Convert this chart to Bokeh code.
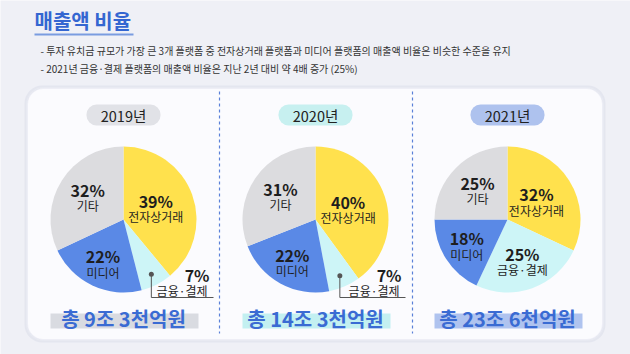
import math
from bokeh.plotting import figure
from bokeh.models import Range1d, BoxAnnotation, ColumnDataSource
from bokeh.core.properties import value
from bokeh.embed import file_html
from bokeh.resources import INLINE

# ---------------- data ----------------
years = ["2019년", "2020년", "2021년"]
categories = ["전자상거래", "금융·결제", "미디어", "기타"]
share_2019 = [39, 7, 22, 32]
share_2020 = [40, 7, 22, 31]
share_2021 = [32, 25, 18, 25]
totals = ["총 9조 3천억원", "총 14조 3천억원", "총 23조 6천억원"]
title = "매출액 비율"
notes = [
    "- 투자 유치금 규모가 가장 큰 3개 플랫폼 중 전자상거래 플랫폼과 미디어 플랫폼의  매출액 비율은 비슷한 수준을 유지",
    "- 2021년 금융·결제 플랫폼의 매출액 비율은 지난 2년 대비 약 4배 증가 (25%)",
]

# ---------------- styles / layout ----------------
W, H = 630, 354
FONT = value("Noto Sans CJK KR")
slice_colors = ["#FFE14D", "#CDF5F7", "#5A89E6", "#DCDCDF"]
pill_colors = ["#E1E2E7", "#C7F0F0", "#AEC2EE"]
hl_colors = ["#D9DBE1", "#C3F0F1", "#AFC3EF"]
blue = "#3A6BD3"
centers_x = [123, 315, 507]
cy = 219
R = 73
label_r = [0.47, 0.6, 0.66, 0.58]


def Y(y):
    return H - y


p = figure(width=W, height=H, x_range=Range1d(0, W), y_range=Range1d(0, H),
           output_backend="svg", toolbar_location=None,
           x_axis_type=None, y_axis_type=None, min_border=0)
p.background_fill_color = "#EFF0F6"
p.border_fill_color = "#EFF0F6"
p.outline_line_color = None
p.grid.visible = False

# panel with soft shadow
for off, col in [(3, "#E4E6EF"), (1.5, "#E8EAF2")]:
    p.add_layout(BoxAnnotation(left=27 - off, right=602 + off, top=Y(88 - off), bottom=Y(339 + off),
                               fill_color=col, fill_alpha=1, line_color=None,
                               border_radius=18, level="underlay"))
p.add_layout(BoxAnnotation(left=27, right=602, top=Y(88), bottom=Y(339),
                           fill_color="#FBFBFE", fill_alpha=1, line_color="#E3E6F1",
                           border_radius=16, level="underlay"))

# title + notes
p.text(x=[34], y=[Y(20)], text=[title], text_font=FONT, text_font_size="20px",
       text_font_style="bold", text_color="#3466D1", text_align="left", text_baseline="middle")
p.segment(x0=[34], y0=[Y(34)], x1=[133], y1=[Y(34)], line_color="#7A9CE0", line_width=2)
p.text(x=[40, 40], y=[Y(50), Y(68)], text=notes, text_font=FONT, text_font_size="10px",
       text_color="#333333", text_align="left", text_baseline="middle")

# dashed separators
p.segment(x0=[219, 412], y0=[Y(91), Y(91)], x1=[219, 412], y1=[Y(333), Y(333)],
          line_color="#5A80D8", line_width=1.2, line_dash="3 3")

all_shares = [share_2019, share_2020, share_2021]
for i, shares in enumerate(all_shares):
    cx = centers_x[i]
    total = float(sum(shares))
    starts, ends, mids = [], [], []
    c = 0.0
    for s in shares:
        f0 = c / total
        c += s
        f1 = c / total
        starts.append(math.pi / 2 - 2 * math.pi * f0)
        ends.append(math.pi / 2 - 2 * math.pi * f1)
        mids.append(2 * math.pi * (f0 + f1) / 2)
    src = ColumnDataSource(dict(x=[cx] * 4, y=[Y(cy)] * 4, start=starts, end=ends,
                                color=slice_colors, cat=categories, share=shares))
    p.wedge(x="x", y="y", radius=R, radius_units="screen", start_angle="start",
            end_angle="end", direction="clock", fill_color="color", line_color=None, source=src)

    # year pill
    p.add_layout(BoxAnnotation(left=cx - 37, right=cx + 37, top=Y(104), bottom=Y(125),
                               fill_color=pill_colors[i], fill_alpha=1, line_color=None,
                               border_radius=10, level="underlay"))
    p.text(x=[cx], y=[Y(114.5)], text=[years[i]], text_font=FONT, text_font_size="14.5px",
           text_color="#222222", text_align="center", text_baseline="middle")

    # slice labels
    for k, (s, cat) in enumerate(zip(shares, categories)):
        th = mids[k]
        if s >= 10:
            r = label_r[k] * R
            lx = cx + r * math.sin(th)
            ly = Y(cy) + r * math.cos(th)
            p.text(x=[lx], y=[ly + 7], text=[f"{s}%"], text_font=FONT, text_font_size="16px",
                   text_font_style="bold", text_color="#1E1E1E", text_align="center",
                   text_baseline="middle")
            p.text(x=[lx], y=[ly - 9], text=[cat], text_font=FONT, text_font_size="12px",
                   text_color="#1E1E1E", text_align="center", text_baseline="middle")
        else:
            r = 0.84 * R
            dx = cx + r * math.sin(th)
            dy = Y(cy) + r * math.cos(th)
            p.scatter(x=[dx], y=[dy], size=5, marker="circle", fill_color="#555555", line_color=None)
            p.line(x=[dx, dx, cx + 90], y=[dy, Y(cy + 78), Y(cy + 78)], line_color="#555555", line_width=1)
            p.text(x=[cx + 86], y=[Y(cy + 55)], text=[f"{s}%"], text_font=FONT, text_font_size="16px",
                   text_font_style="bold", text_color="#1E1E1E", text_align="right",
                   text_baseline="middle")
            p.text(x=[cx + 84], y=[Y(cy + 71)], text=[cat], text_font=FONT, text_font_size="12px",
                   text_color="#1E1E1E", text_align="right", text_baseline="middle")

    # total with highlight
    p.quad(left=[cx - 73], right=[cx + 75], top=[Y(313)], bottom=[Y(328)],
           fill_color=hl_colors[i], line_color=None)
    p.text(x=[cx], y=[Y(318)], text=[totals[i]], text_font=FONT, text_font_size="20px",
           text_font_style="bold", text_color=blue, text_align="center", text_baseline="middle")

open("out.html", "w").write(file_html(p, INLINE))
